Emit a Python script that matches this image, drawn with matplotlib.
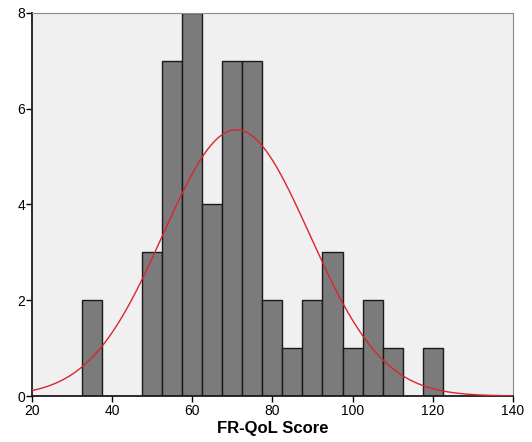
import numpy as np
import matplotlib
matplotlib.use("Agg")
import matplotlib.pyplot as plt

plt.rcParams['font.family'] = ['Liberation Sans', 'DejaVu Sans']

# bin centres (width 5) and counts
bin_centres = [35, 50, 55, 60, 65, 70, 75, 80, 85, 90, 95, 100, 105, 110, 120]
counts = [2, 3, 7, 8, 4, 7, 7, 2, 1, 2, 3, 1, 2, 1, 1]
bin_width = 5
# fitted normal curve parameters (estimated)
mean_score = 71.0
sd_score = 18.3

fig = plt.figure(figsize=(5.32, 4.42), dpi=100)
ax = fig.add_axes([0.060, 0.104, 0.904, 0.867])
ax.set_facecolor('#f0f0f0')

ax.bar(bin_centres, counts, width=bin_width, color='#7b7b7b',
       edgecolor='#1a1a1a', linewidth=1.0, zorder=2)

n = sum(counts)
xs = np.linspace(20, 140, 400)
ys = n * bin_width / (sd_score * np.sqrt(2 * np.pi)) * np.exp(-0.5 * ((xs - mean_score) / sd_score) ** 2)
ax.plot(xs, ys, color='#d9262e', linewidth=1.0, zorder=3)

ax.set_xlim(20, 140)
ax.set_ylim(0, 8)
ax.set_xticks(range(20, 141, 20))
ax.set_yticks(range(0, 9, 2))
ax.tick_params(axis='both', labelsize=10, length=4, width=1, direction='out', pad=1)
ax.tick_params(axis='x', pad=2)

for side in ['top', 'right']:
    ax.spines[side].set_color('#8c8c8c')
for side in ['left', 'bottom']:
    ax.spines[side].set_color('#1a1a1a')
    ax.spines[side].set_linewidth(1.3)

ax.set_xlabel('FR-QoL Score', fontsize=12, fontweight='bold', labelpad=2)

fig.savefig('out.png', dpi=100)
